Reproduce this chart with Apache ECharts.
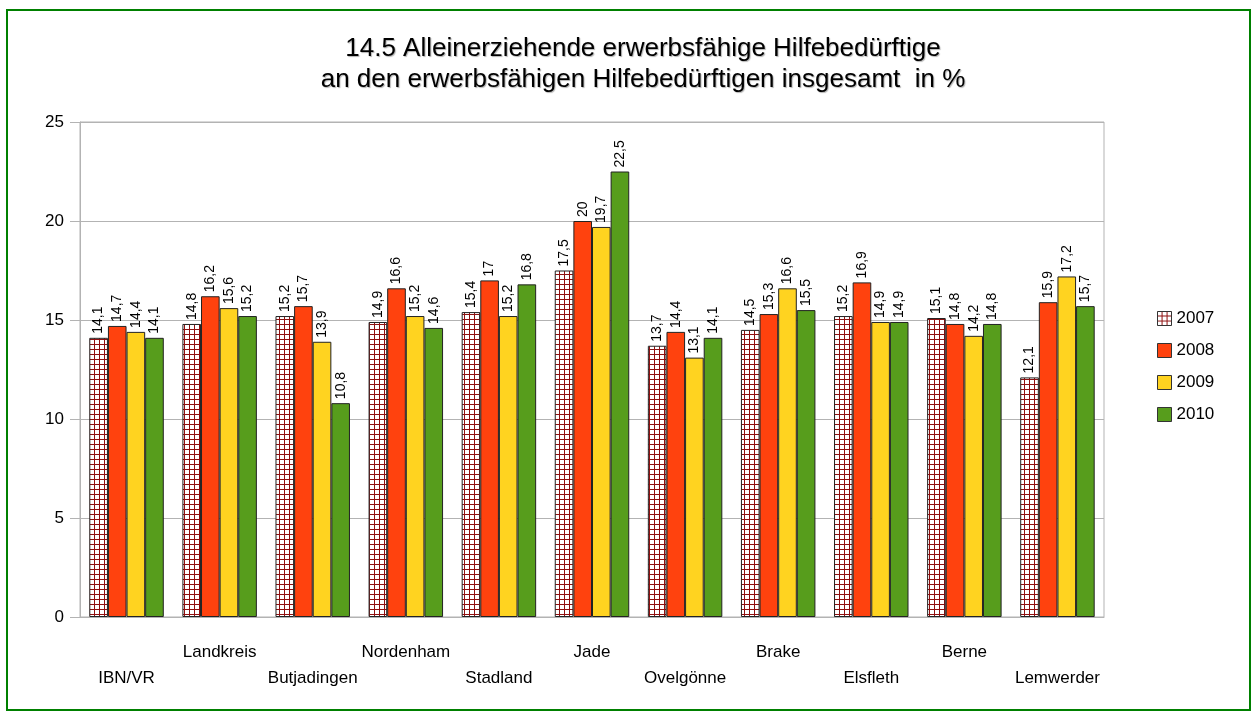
<!DOCTYPE html>
<html lang="de">
<head>
    <meta charset="UTF-8">
    <title>14.5 Alleinerziehende erwerbsfähige Hilfebedürftige</title>
    <style>
        html, body { margin: 0; padding: 0; background: #fff; }
    </style>
</head>
<body>
<div id="main" style="width: 1258px;height:717px;"></div>
<script src="https://cdn.jsdelivr.net/npm/echarts@6/dist/echarts.min.js"></script>
<script>
    // Daten
    var orte = ['IBN/VR', 'Landkreis', 'Butjadingen', 'Nordenham', 'Stadland', 'Jade',
        'Ovelgönne', 'Brake', 'Elsfleth', 'Berne', 'Lemwerder'];
    var jahre = ['2007', '2008', '2009', '2010'];
    var werte2007 = [14.1, 14.8, 15.2, 14.9, 15.4, 17.5, 13.7, 14.5, 15.2, 15.1, 12.1];
    var werte2008 = [14.7, 16.2, 15.7, 16.6, 17, 20, 14.4, 15.3, 16.9, 14.8, 15.9];
    var werte2009 = [14.4, 15.6, 13.9, 15.2, 15.2, 19.7, 13.1, 16.6, 14.9, 14.2, 17.2];
    var werte2010 = [14.1, 15.2, 10.8, 14.6, 16.8, 22.5, 14.1, 15.5, 14.9, 14.8, 15.7];
    var yTicks = [0, 5, 10, 15, 20, 25];

    // Karomuster für 2007
    var muster = document.createElement('canvas');
    muster.width = 5;
    muster.height = 5;
    var ctx = muster.getContext('2d');
    ctx.fillStyle = '#ffffff';
    ctx.fillRect(0, 0, 5, 5);
    ctx.fillStyle = '#8f1010';
    ctx.fillRect(4, 0, 1, 5);
    ctx.fillRect(0, 4, 5, 1);

    var farben = [{image: muster, repeat: 'repeat'}, '#ff420e', '#ffd320', '#579d1c'];
    var reihen = [werte2007, werte2008, werte2009, werte2010];

    var myChart = echarts.init(document.getElementById('main'));
    var option = {
        backgroundColor: '#fff',
        animation: false,
        textStyle: {fontFamily: 'Liberation Sans, Arial, sans-serif'},
        title: {
            text: '14.5 Alleinerziehende erwerbsfähige Hilfebedürftige\nan den erwerbsfähigen Hilfebedürftigen insgesamt  in %',
            left: 638,
            textAlign: 'center',
            top: 28,
            textStyle: {
                fontSize: 26,
                fontWeight: 'normal',
                color: '#000',
                lineHeight: 31,
                fontFamily: 'Liberation Sans, Arial, sans-serif',
                textShadowColor: 'rgba(0,0,0,0.3)',
                textShadowOffsetX: 1,
                textShadowOffsetY: 1,
                textShadowBlur: 1
            }
        },
        legend: {
            orient: 'vertical',
            left: 1152,
            top: 305,
            itemWidth: 14,
            itemHeight: 14,
            itemGap: 15,
            icon: 'rect',
            data: jahre,
            textStyle: {fontSize: 17, color: '#000'},
            itemStyle: {borderColor: '#333', borderWidth: 1}
        },
        grid: {
            left: 80,
            right: 154,
            top: 122,
            bottom: 100,
            show: true,
            borderColor: '#b3b3b3',
            borderWidth: 1
        },
        xAxis: {
            type: 'category',
            data: orte,
            axisLine: {lineStyle: {color: '#b3b3b3'}},
            axisTick: {length: 10, lineStyle: {color: '#b3b3b3'}},
            axisLabel: {
                interval: 0,
                color: '#000',
                fontSize: 17,
                margin: 22,
                lineHeight: 26,
                formatter: function (v, i) {
                    return i % 2 === 0 ? '\n' + v : v;
                }
            }
        },
        yAxis: {
            type: 'value',
            min: yTicks[0],
            max: yTicks[yTicks.length - 1],
            interval: 5,
            axisLine: {show: true, lineStyle: {color: '#b3b3b3'}},
            axisTick: {show: true, length: 10, lineStyle: {color: '#b3b3b3'}},
            axisLabel: {color: '#000', fontSize: 17, margin: 16},
            splitLine: {lineStyle: {color: '#b3b3b3'}}
        },
        series: jahre.map(function (j, k) {
            return {
                name: j,
                type: 'bar',
                data: reihen[k],
                barGap: '0%',
                barCategoryGap: '20%',
                itemStyle: {color: farben[k], borderColor: '#222', borderWidth: 1},
                label: {
                    show: true,
                    position: 'top',
                    rotate: 90,
                    align: 'left',
                    verticalAlign: 'middle',
                    distance: 4,
                    fontSize: 14,
                    color: '#000',
                    formatter: function (p) {
                        return String(p.value).replace('.', ',');
                    }
                }
            };
        }),
        graphic: [{
            type: 'rect',
            shape: {x: 7, y: 10, width: 1243, height: 700},
            style: {fill: 'none', stroke: '#008000', lineWidth: 2},
            silent: true
        }]
    };
    myChart.setOption(option);
</script>
</body>
</html>
